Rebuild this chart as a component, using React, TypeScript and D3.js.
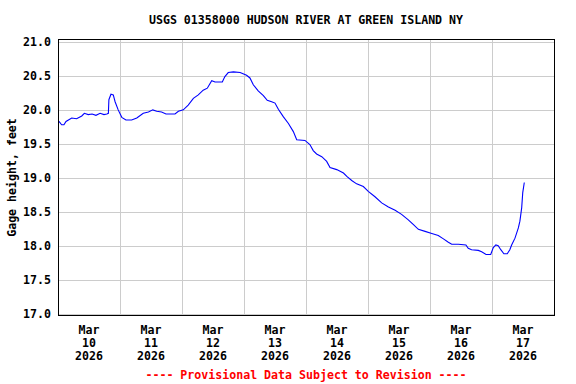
import React, { useRef, useEffect } from 'react';
import * as d3 from 'd3';

// hours since Mar 10 2026 00:00
const hours = [
  0.4, 1.4, 2.3, 3.1, 5.3, 7.2, 9.2, 10.2, 11.7, 13.2, 14.7, 16.3, 17.8, 18.9, 19.5,
  19.7, 20.5, 21.4, 22.1, 23.3, 24.7, 26.3, 28.5, 30.5, 33.0, 35.0, 36.7, 38.2, 40.1,
  41.8, 45.3, 46.6, 48.5, 50.4, 52.4, 54.3, 56.2, 57.8, 59.5, 60.8, 63.6, 64.6, 65.9,
  67.9, 70.5, 73.0, 74.3, 75.6, 77.5, 79.5, 81.0, 82.7, 84.0, 85.3, 87.2, 89.2, 91.1,
  92.4, 95.6, 97.5, 98.8, 100.1, 102.1, 104.0, 105.3, 107.9, 110.5, 111.8, 113.7,
  115.6, 118.2, 120.1, 122.7, 125.3, 127.9, 130.5, 133.0, 135.6, 137.6, 139.5, 142.1,
  144.7, 147.2, 149.2, 151.1, 152.4, 155.0, 157.9, 158.8, 160.1, 162.7, 164.0, 165.7,
  167.5, 168.5, 169.5, 170.4, 171.4, 172.6, 173.9, 174.9, 175.6, 176.9, 178.2, 178.8,
  179.5, 179.9, 180.5,
];

// gage height, feet
const gage = [
  19.83, 19.78, 19.78, 19.83, 19.88, 19.87, 19.91, 19.95, 19.93, 19.94, 19.92, 19.95, 19.93, 19.94, 19.95,
  20.15, 20.23, 20.22, 20.12, 20.0, 19.89, 19.85, 19.85, 19.88, 19.95, 19.97, 20.0, 19.98, 19.97,
  19.94, 19.94, 19.98, 20.0, 20.07, 20.17, 20.22, 20.29, 20.32, 20.43, 20.41, 20.41, 20.49, 20.55,
  20.56, 20.55, 20.51, 20.47, 20.37, 20.28, 20.21, 20.14, 20.12, 20.10, 20.01, 19.90, 19.80, 19.68,
  19.56, 19.55, 19.49, 19.40, 19.35, 19.31, 19.24, 19.15, 19.12, 19.07, 19.02, 18.96,
  18.91, 18.87, 18.80, 18.72, 18.63, 18.57, 18.52, 18.46, 18.38, 18.31, 18.24, 18.21,
  18.18, 18.15, 18.10, 18.05, 18.02, 18.02, 18.01, 17.96, 17.94, 17.93, 17.91, 17.87,
  17.87, 17.97, 18.01, 18.0, 17.94, 17.88, 17.88, 17.94, 18.01, 18.11, 18.26, 18.36,
  18.56, 18.78, 18.93,
];

const yTicks = [17.0, 17.5, 18.0, 18.5, 19.0, 19.5, 20.0, 20.5, 21.0];
const dayLabels = ['10', '11', '12', '13', '14', '15', '16', '17'];

const title = 'USGS 01358000 HUDSON RIVER AT GREEN ISLAND NY';
const yTitle = 'Gage height, feet';
const footer = '---- Provisional Data Subject to Revision ----';

const start = Date.UTC(2026, 2, 10);
const end = Date.UTC(2026, 2, 18);
const font = '"DejaVu Sans Mono", monospace';

const GageChart = () => {
  const ref = useRef<SVGSVGElement>(null);

  useEffect(() => {
    const width = 576, height = 384;
    const left = 58, right = 554, top = 39.5, bottom = 315.5;

    const svg = d3.select(ref.current)
      .attr('width', width)
      .attr('height', height);

    const x = d3.scaleUtc().domain([new Date(start), new Date(end)]).range([left, right]);
    const y = d3.scaleLinear().domain([17, 21]).range([313.5, 42]);

    svg.append('rect').attr('width', width).attr('height', height).attr('fill', '#fff');

    // grid
    const days = d3.utcDay.range(new Date(start), new Date(end)).slice(1);
    svg.append('g').selectAll('line')
      .data(days)
      .join('line')
      .attr('x1', d => Math.round(x(d)) + 0.5)
      .attr('x2', d => Math.round(x(d)) + 0.5)
      .attr('y1', top)
      .attr('y2', bottom)
      .attr('stroke', '#cccccc');

    svg.append('g').selectAll('line')
      .data(yTicks)
      .join('line')
      .attr('x1', left)
      .attr('x2', right)
      .attr('y1', d => Math.round(y(d)) + 0.5)
      .attr('y2', d => Math.round(y(d)) + 0.5)
      .attr('stroke', '#cccccc');

    // data line
    const line = d3.line<number>()
      .x((d, i) => x(new Date(start + hours[i] * 3600e3)))
      .y(d => y(d));

    svg.append('path')
      .datum(gage)
      .attr('d', line)
      .attr('fill', 'none')
      .attr('stroke', '#0000ff')
      .attr('stroke-width', 1.1);

    // frame
    svg.append('rect')
      .attr('x', left + 0.5)
      .attr('y', top)
      .attr('width', right - left)
      .attr('height', bottom - top)
      .attr('fill', 'none')
      .attr('stroke', '#000');

    const text = svg.append('g')
      .attr('font-family', font)
      .attr('font-weight', 'bold')
      .attr('font-size', 11.6)
      .attr('fill', '#000');

    text.append('text')
      .attr('x', 306)
      .attr('y', 24)
      .attr('text-anchor', 'middle')
      .text(title);

    text.selectAll('.ytick')
      .data(yTicks)
      .join('text')
      .attr('class', 'ytick')
      .attr('x', 51)
      .attr('y', d => y(d) + 4)
      .attr('text-anchor', 'end')
      .text(d => d.toFixed(1));

    text.append('text')
      .attr('transform', `translate(16,${(top + bottom) / 2}) rotate(-90)`)
      .attr('text-anchor', 'middle')
      .text(yTitle);

    const noons = d3.utcDay.range(new Date(start), new Date(end)).map(d => d3.utcHour.offset(d, 12));
    const xl = text.selectAll('.xtick')
      .data(noons)
      .join('g')
      .attr('class', 'xtick')
      .attr('transform', d => `translate(${x(d)},0)`)
      .attr('text-anchor', 'middle');
    xl.append('text').attr('y', 334).text('Mar');
    xl.append('text').attr('y', 347).text((d, i) => dayLabels[i]);
    xl.append('text').attr('y', 360).text('2026');

    text.append('text')
      .attr('x', 306)
      .attr('y', 379)
      .attr('text-anchor', 'middle')
      .attr('fill', '#ff0000')
      .text(footer);

    return () => {
      svg.selectAll('*').remove();
    };
  }, []);

  return <svg ref={ref}></svg>;
};

export default function App() {
  return (
    <div style={{ position: 'absolute', left: 0, top: 0 }}>
      <GageChart />
    </div>
  );
}
